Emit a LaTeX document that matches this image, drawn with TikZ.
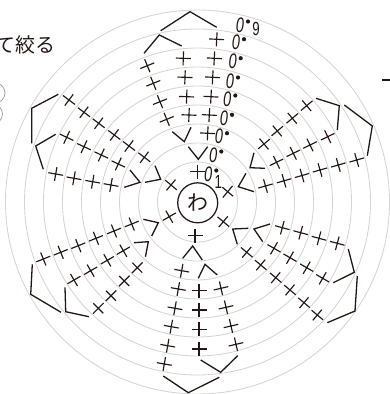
\documentclass[tikz,border=0pt]{standalone}
\usepackage{fontspec}
\usepackage{xcolor}
\setmainfont{Liberation Sans}
\newfontfamily\cjkfont{Noto Sans CJK JP}
\usetikzlibrary{arrows.meta,positioning}
\definecolor{inkdark}{HTML}{231815}
\definecolor{ringgray}{HTML}{D4D4D4}

\begin{document}
\begin{tikzpicture}[
    x=1pt, y=-1pt,
    ringline/.style={draw=ringgray, line width=0.85pt},
    hookline/.style={draw=inkdark, line width=1.3pt, line join=miter},
    crossline/.style={draw=inkdark, line width=1.15pt},
    rowzero/.style={font=\fontsize{21}{21}\selectfont\itshape, text=inkdark, inner sep=0pt, xscale=0.7},
    rownum/.style={font=\fontsize{19}{19}\selectfont, text=inkdark, inner sep=0pt, xscale=0.7},
    loopring/.style={draw=inkdark, circle, line width=1.25pt, minimum size=40pt, inner sep=0pt, font=\cjkfont\fontsize{21}{21}\selectfont, text=inkdark},
    stitch/.pic={\draw[crossline] (-7.5,0) -- (7.5,0) (0,-7) -- (0,7);}
]
\useasboundingbox (0,0) rectangle (390,394);
\clip (0,0) rectangle (390,394);
\foreach \r in {40,59,78,97,116,135,154,173,192}
    \draw[ringline] (197.5,202) circle (\r);
\draw[ringline, draw=gray!70] (-5,93) circle (10);
\draw[ringline, draw=gray!70] (-7.5,114) circle (10);
\node[anchor=east, inner sep=0pt, text=inkdark, font=\cjkfont\fontsize{20}{20}\selectfont] (title) at (55.5,44.5) {て絞る};
\draw[crossline] (382,80) -- (390,80);
\node[loopring] (loop) at (197.7,202.8) {わ};
\foreach \x/\y [count=\n] in {208.3/174,213.3/155,219/136.7,224/118.3,227.3/99,230/81,232.7/61.7,236/42.7,240/25} {
    \node[rowzero] (zero\n) at (\x,\y) {0};
    \fill[inkdark] (\x+8,\y-3.5) circle (2.1);
}
\node[rownum] (rowone) at (218.3,181.7) {1};
\node[rownum] (rownine) at (256,29) {9};
\foreach \x/\y/\a in {197.7/171.7/0,171/185/-40,227.7/191.7/50,169.3/216.7/30,223.3/221.7/-40,195/235.7/0}
    \pic[rotate=\a] at (\x,\y) {stitch};
\foreach \x/\y in {216.7/39.3,214.3/58.3,212.7/77.3,211/96.7,209.3/115,207.7/133.3}
    \pic[rotate=-3] at (\x,\y) {stitch};
\foreach \x/\y in {183.3/58.3,185/77.3,186.7/96.7,189/115}
    \pic[rotate=-2] at (\x,\y) {stitch};
\foreach \x/\y in {147.3/65.7,153.3/83.3,160/101.7,166.7/119.3}
    \pic[rotate=22] at (\x,\y) {stitch};
\foreach \x/\y in {69/100,84/112.3,98.7/123.3,114.3/135,129/146,144.3/157.3}
    \pic[rotate=-37] at (\x,\y) {stitch};
\foreach \x/\y in {66.7/137.3,84/146.7,101.3/155,118.3/164}
    \pic[rotate=-25] at (\x,\y) {stitch};
\foreach \x/\y in {55.7/174,74/178.3,92.7/181.7,111/185}
    \pic[rotate=-10] at (\x,\y) {stitch};
\foreach \x/\y in {306.7/105.7,292.3/118.3,277.3/131,264/144}
    \pic[rotate=40] at (\x,\y) {stitch};
\foreach \x/\y in {327.7/136.7,310/145,293.3/153.3,276.5/162.3}
    \pic[rotate=26] at (\x,\y) {stitch};
\foreach \x/\y in {356.7/160,338.3/165,320/170,302/175.5,284/180.8,265.5/186}
    \pic[rotate=16] at (\x,\y) {stitch};
\foreach \x/\y in {282.3/227.7,300.7/232.7,319/238.3,337.3/243.3}
    \pic[rotate=-15] at (\x,\y) {stitch};
\foreach \x/\y in {274/248.3,290/257.7,306.7/267.7,322.7/278.3}
    \pic[rotate=-30] at (\x,\y) {stitch};
\foreach \x/\y in {246.7/252.3,260.7/265,275.7/277.7,290/290,304/302.7,317.3/315}
    \pic[rotate=-40] at (\x,\y) {stitch};
\foreach \x/\y in {43.3/259,60.7/252.3,78.3/245.7,96/238.3,114/231,131.7/224}
    \pic[rotate=22] at (\x,\y) {stitch};
\foreach \x/\y in {74/280,90.7/270.7,107.3/260.3,123.3/250.7}
    \pic[rotate=30] at (\x,\y) {stitch};
\foreach \x/\y in {98.3/308.3,111/295.7,124.3/281,137.3/267.7}
    \pic[rotate=45] at (\x,\y) {stitch};
\foreach \x/\y in {181.7/270.7,178.3/289,175/308.3,171.3/326.7,167.7/345.7,164.3/364}
    \pic[rotate=-10] at (\x,\y) {stitch};
\foreach \x/\y in {199/290.7,199/310,199/329.3,199/349}
    \pic at (\x,\y) {stitch};
\foreach \x/\y in {221/288.3,226/307.3,231/326,236/344.3}
    \pic[rotate=13] at (\x,\y) {stitch};
\draw[hookline] (160.7,30.7) -- (190,11.7) -- (216.7,27.3);
\draw[hookline] (144,53.3) -- (159.3,35) -- (181.7,46);
\draw[hookline] (172.3,131.7) -- (184.3,141.7) -- (191,127.3);
\draw[hookline] (188.3,146.7) -- (198.3,159.3) -- (207.7,146.7);
\draw[hookline] (58.3,94.3) -- (31.7,108.3) -- (31.7,143.3);
\draw[hookline] (55.7,134.3) -- (35.7,146) -- (43.3,169.3);
\draw[hookline] (130,170) -- (140,182.3) -- (124.3,187.3);
\draw[hookline] (155,165.7) -- (160.7,179.3) -- (145,182.3);
\draw[hookline] (316,98.3) -- (339.3,105.7) -- (337.3,130);
\draw[hookline] (344.3,105) -- (372.3,126) -- (367.3,155.7);
\draw[hookline] (254,152.7) -- (250,167.7) -- (265,168.3);
\draw[hookline] (246,173.3) -- (238.3,186.7) -- (254,191.7);
\draw[hookline] (270,224) -- (254,229) -- (262.7,241.7);
\draw[hookline] (248.3,228.3) -- (232.7,229) -- (237.3,244.3);
\draw[hookline] (348.3,249) -- (354.3,272.3) -- (333.3,282.7);
\draw[hookline] (357.3,276) -- (355,311) -- (327.3,322.7);
\draw[hookline] (32.3,264.3) -- (30.7,294.3) -- (61,312.3);
\draw[hookline] (65,287.3) -- (65.7,311.7) -- (89,316.7);
\draw[hookline] (143.3,219.3) -- (158.3,222.7) -- (151.7,236);
\draw[hookline] (134,242.7) -- (148.3,241.7) -- (145.5,256.7);
\draw[hookline] (182.7,258.3) -- (192.7,246) -- (202.3,260);
\draw[hookline] (198.3,278.3) -- (205,264.3) -- (217.3,275);
\draw[hookline] (200.7,360) -- (220.7,372.3) -- (237.7,355.7);
\draw[hookline] (163.3,376) -- (188.3,392.7) -- (219.3,377.3);
\end{tikzpicture}
\end{document}
